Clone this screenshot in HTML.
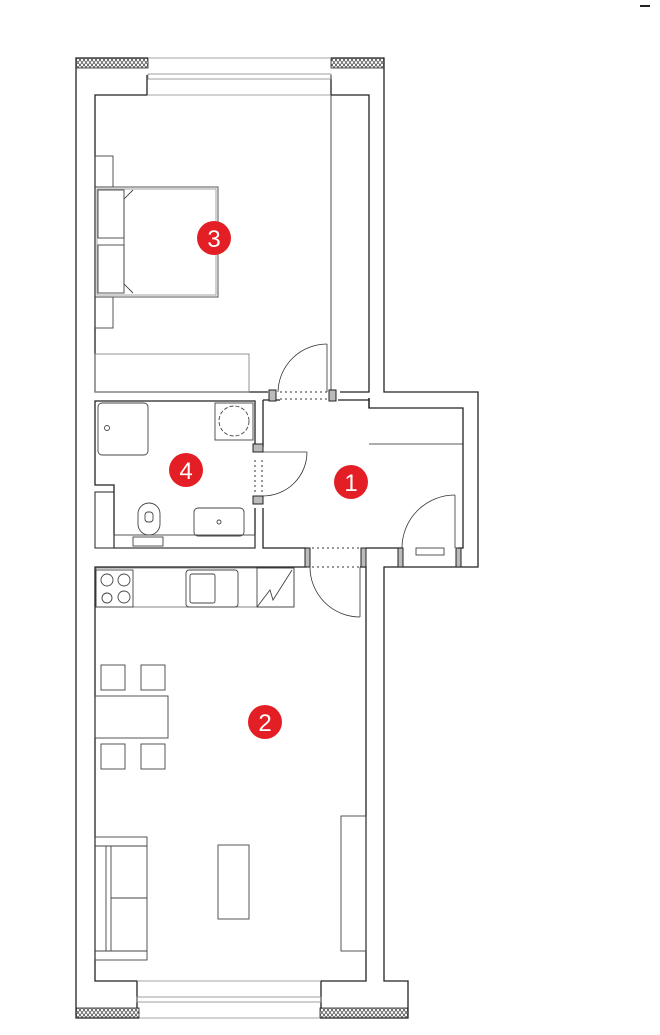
<!DOCTYPE html>
<html><head><meta charset="utf-8"><style>html,body{margin:0;padding:0;background:#fff}svg{display:block}</style></head>
<body>
<svg width="660" height="1035" viewBox="0 0 660 1035" xmlns="http://www.w3.org/2000/svg">
<defs>
<pattern id="h" width="4" height="5" patternUnits="userSpaceOnUse">
<path d="M0 0L4 5M4 0L0 5" stroke="#333" stroke-width="0.7"/>
</pattern>
</defs>
<rect x="640" y="5" width="10" height="2" fill="#222"/>
<g fill="none" stroke="#222" stroke-width="1.3">
<!-- outer walls -->
<polyline points="148,58 76,58 76,1018 139,1018"/>
<polyline points="331,58 384,58 384,392 478,392 478,567 384,567 384,981 408,981 408,1018 320,1018"/>
<!-- bedroom inner -->
<polyline points="268,392 95,392 95,95 147,95 147,75"/>
<polyline points="331,75 331,95 369,95 369,392 340,392"/>
<line x1="331" y1="95" x2="331" y2="392" stroke-width="0.8"/>
<!-- hall -->
<polyline points="369,398 369,408 463,408 463,548 458,548"/>
<line x1="369" y1="444" x2="463" y2="444" stroke-width="0.8"/>
<line x1="369" y1="398" x2="369" y2="408"/>
<polyline points="402,548 366,548"/>
<polyline points="307,548 263,548 263,508"/>
<line x1="263" y1="447" x2="263" y2="400"/>
<line x1="263" y1="400" x2="280" y2="400"/>
<line x1="338" y1="400" x2="369" y2="400"/>
<!-- bathroom -->
<polyline points="255,447 255,401 95,401 95,485 114,485 114,548 255,548 255,508"/>
<rect x="95" y="492" width="19" height="56" stroke-width="1"/>
<!-- living -->
<polyline points="307,567 95,567 95,981 137,981 137,1008"/>
<polyline points="321,1008 321,981 366,981 366,567 360,567"/>
</g>
<!-- hatches -->
<rect x="76" y="58" width="72" height="10" fill="url(#h)" stroke="#222" stroke-width="0.8"/>
<rect x="331" y="58" width="53" height="10" fill="url(#h)" stroke="#222" stroke-width="0.8"/>
<rect x="76" y="1008" width="63" height="10" fill="url(#h)" stroke="#222" stroke-width="0.8"/>
<rect x="320" y="1008" width="88" height="10" fill="url(#h)" stroke="#222" stroke-width="0.8"/>
<!-- windows -->
<g fill="none" stroke="#888" stroke-width="0.8">
<line x1="148" y1="58" x2="331" y2="58"/>
<rect x="148" y="74" width="183" height="5"/>
<line x1="147" y1="95" x2="331" y2="95"/>
<line x1="139" y1="1018" x2="320" y2="1018"/>
<rect x="137" y="997" width="184" height="5"/>
<line x1="137" y1="981" x2="321" y2="981"/>
</g>
<!-- furniture -->
<g fill="none" stroke="#444" stroke-width="0.9">
<rect x="95" y="156" width="18" height="31"/>
<rect x="95" y="297" width="18" height="31"/>
<rect x="95" y="187" width="123" height="110"/>
<rect x="97" y="189" width="119" height="106" stroke="#999"/>
<rect x="98" y="190" width="26" height="48"/>
<rect x="98" y="245" width="26" height="48"/>
<polyline points="133,190 124,199 124,284 133,293"/>
<rect x="95" y="354" width="154" height="38" stroke="#888"/>
<rect x="98" y="403" width="50" height="52" rx="4"/>
<circle cx="107" cy="428" r="2.5"/>
<rect x="215" y="403" width="38" height="37"/>
<circle cx="234" cy="421" r="15" stroke-dasharray="4,2"/>
<rect x="138" y="503" width="22" height="32" rx="11"/>
<rect x="145" y="512" width="8" height="10" rx="3"/>
<rect x="194" y="508" width="50" height="28" rx="4"/>
<circle cx="219" cy="522" r="2"/>
<rect x="114" y="535" width="141" height="13"/>
<rect x="133" y="537" width="30" height="9"/>
<!-- kitchen -->
<rect x="96" y="568" width="198" height="39" stroke="#777"/>
<rect x="96" y="570" width="37" height="37"/>
<circle cx="107" cy="580" r="6"/><circle cx="124" cy="580" r="6"/>
<circle cx="107" cy="598" r="5"/><circle cx="124" cy="597" r="6"/>
<rect x="186" y="570" width="52" height="37" rx="3"/>
<rect x="190" y="574" width="25" height="29" rx="2"/>
<rect x="257" y="568" width="37" height="39"/>
<polyline points="257,607 270,590 273,600 292,570"/>
<!-- dining -->
<rect x="101" y="665" width="24" height="25"/>
<rect x="141" y="665" width="24" height="25"/>
<rect x="95" y="696" width="73" height="42"/>
<rect x="101" y="744" width="24" height="25"/>
<rect x="141" y="744" width="24" height="25"/>
<!-- living -->
<rect x="95" y="837" width="52" height="123"/>
<line x1="95" y1="846" x2="147" y2="846"/><line x1="95" y1="951" x2="147" y2="951"/>
<line x1="106" y1="846" x2="106" y2="951"/><line x1="111" y1="846" x2="111" y2="951"/>
<line x1="111" y1="898" x2="147" y2="898"/>
<rect x="218" y="845" width="31" height="74"/>
<rect x="341" y="816" width="25" height="135"/>
<rect x="416" y="548" width="28" height="7"/>
</g>
<!-- doors -->
<g fill="none" stroke="#333" stroke-width="0.8">
<line x1="327" y1="344" x2="327" y2="392"/>
<path d="M278,392 A49,49 0 0 1 327,344"/>
<line x1="259" y1="452" x2="307" y2="452"/>
<path d="M307,452 A44,44 0 0 1 263,496"/>
<line x1="455" y1="495" x2="455" y2="548"/>
<path d="M402,548 A53,53 0 0 1 455,495"/>
<line x1="360" y1="567" x2="360" y2="617"/>
<path d="M310,567 A50,50 0 0 0 360,617"/>
</g>
<g stroke="#333" stroke-width="1" stroke-dasharray="2,3">
<line x1="280" y1="392" x2="327" y2="392"/><line x1="280" y1="399" x2="327" y2="399"/>
<line x1="255" y1="460" x2="255" y2="495"/><line x1="262" y1="460" x2="262" y2="495"/>
<line x1="312" y1="548" x2="360" y2="548"/><line x1="312" y1="567" x2="360" y2="567"/>
</g>
<g fill="#bbb" stroke="#222" stroke-width="1">
<rect x="269" y="390" width="7" height="11"/><rect x="329" y="390" width="7" height="11"/>
<rect x="253" y="444" width="10" height="8"/><rect x="253" y="496" width="10" height="8"/>
<rect x="305" y="548" width="5" height="19"/><rect x="361" y="548" width="5" height="19"/>
<rect x="398" y="548" width="5" height="19"/><rect x="456" y="548" width="5" height="19"/>
</g>
<!-- numbers -->
<g font-family="Liberation Sans, sans-serif" font-size="24" fill="#fff" text-anchor="middle">
<circle cx="214" cy="238" r="17" fill="#e31e24"/><text x="214" y="247">3</text>
<circle cx="186" cy="470" r="17" fill="#e31e24"/><text x="186" y="479">4</text>
<circle cx="351" cy="482" r="17" fill="#e31e24"/><text x="351" y="491">1</text>
<circle cx="265" cy="722" r="17" fill="#e31e24"/><text x="265" y="731">2</text>
</g>
</svg>
</body></html>
